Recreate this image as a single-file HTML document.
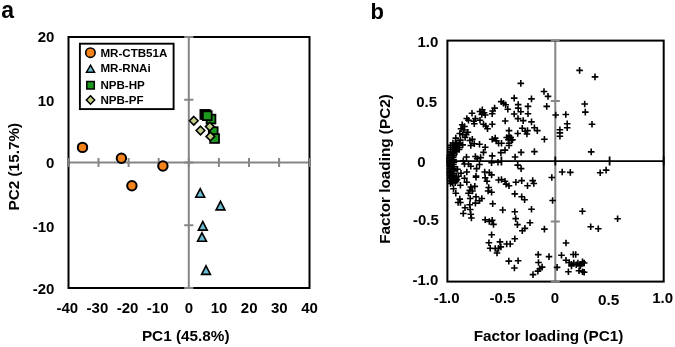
<!DOCTYPE html>
<html><head><meta charset="utf-8"><title>PCA</title>
<style>
html,body{margin:0;padding:0;background:#fff;}
body{width:675px;height:347px;overflow:hidden;}
svg{display:block;will-change:transform;}
text{font-family:"Liberation Sans",sans-serif;font-weight:bold;fill:#000;}
.t{font-size:15px;}
.ti{font-size:15.3px;}
.l{font-size:11.6px;}
.p{font-size:23px;}
</style></head><body>
<svg width="675" height="347" viewBox="0 0 675 347">
<rect width="675" height="347" fill="#fff"/>
<g id="panel-a">
<text class="p" x="1.2" y="18">a</text>
<g stroke="#868686" stroke-width="2" fill="none">
<path d="M68.5 162.5H309.5M188.8 37.0V288.0"/>
<path d="M68.4 157.9v9.2M98.5 157.9v9.2M128.6 157.9v9.2M158.7 157.9v9.2M188.8 157.9v9.2M218.9 157.9v9.2M249.0 157.9v9.2M279.1 157.9v9.2M309.2 157.9v9.2M184.2 37.0h9.2M184.2 99.8h9.2M184.2 162.5h9.2M184.2 225.2h9.2M184.2 288.0h9.2"/>
</g>
<rect x="68.5" y="37.0" width="241.0" height="251.0" fill="none" stroke="#000" stroke-width="2"/>
<g stroke="#868686" stroke-width="2"><path d="M68.5 157.9v9.2M309.5 157.9v9.2M184.2 37.0h9.2M184.2 288.0h9.2"/></g>
<text class="t" x="54.4" y="42.4" text-anchor="end">20</text>
<text class="t" x="54.4" y="105.8" text-anchor="end">10</text>
<text class="t" x="54.4" y="168.4" text-anchor="end">0</text>
<text class="t" x="54.4" y="231.6" text-anchor="end">-10</text>
<text class="t" x="54.4" y="294.4" text-anchor="end">-20</text>
<text class="t" x="67.3" y="313.0" text-anchor="middle">-40</text>
<text class="t" x="97.4" y="313.0" text-anchor="middle">-30</text>
<text class="t" x="127.5" y="313.0" text-anchor="middle">-20</text>
<text class="t" x="157.7" y="313.0" text-anchor="middle">-10</text>
<text class="t" x="189.0" y="313.0" text-anchor="middle">0</text>
<text class="t" x="219.1" y="313.0" text-anchor="middle">10</text>
<text class="t" x="249.2" y="313.0" text-anchor="middle">20</text>
<text class="t" x="279.3" y="313.0" text-anchor="middle">30</text>
<text class="t" x="309.5" y="313.0" text-anchor="middle">40</text>
<text class="ti" x="185.7" y="341.3" text-anchor="middle">PC1 (45.8%)</text>
<text class="ti" transform="translate(18.8 166.7) rotate(-90)" text-anchor="middle">PC2 (15.7%)</text>
<circle cx="82.5" cy="147.4" r="4.7" fill="#F4831B" stroke="#000" stroke-width="2.0"/>
<circle cx="121.4" cy="158.2" r="4.7" fill="#F4831B" stroke="#000" stroke-width="2.0"/>
<circle cx="162.9" cy="166.0" r="4.7" fill="#F4831B" stroke="#000" stroke-width="2.0"/>
<circle cx="131.9" cy="185.7" r="4.7" fill="#F4831B" stroke="#000" stroke-width="2.0"/>
<path d="M200.2 188.7L204.6 197.2H195.8Z" fill="#69BCD2" stroke="#000" stroke-width="1.65" stroke-linejoin="miter"/>
<path d="M220.5 201.3L224.9 209.8H216.1Z" fill="#69BCD2" stroke="#000" stroke-width="1.65" stroke-linejoin="miter"/>
<path d="M202.8 221.6L207.2 230.1H198.4Z" fill="#69BCD2" stroke="#000" stroke-width="1.65" stroke-linejoin="miter"/>
<path d="M202.0 232.8L206.4 241.2H197.6Z" fill="#69BCD2" stroke="#000" stroke-width="1.65" stroke-linejoin="miter"/>
<path d="M206.0 265.9L210.4 274.4H201.6Z" fill="#69BCD2" stroke="#000" stroke-width="1.65" stroke-linejoin="miter"/>
<rect x="200.4" y="110.0" width="8.8" height="8.8" fill="#1C981C" stroke="#000" stroke-width="1.8"/>
<rect x="201.6" y="110.3" width="8.8" height="8.8" fill="#1C981C" stroke="#000" stroke-width="1.8"/>
<rect x="206.6" y="114.7" width="8.8" height="8.8" fill="#1C981C" stroke="#000" stroke-width="1.8"/>
<rect x="202.9" y="111.3" width="8.8" height="8.8" fill="#1C981C" stroke="#000" stroke-width="1.8"/>
<rect x="208.8" y="127.2" width="8.8" height="8.8" fill="#1C981C" stroke="#000" stroke-width="1.8"/>
<rect x="210.2" y="134.1" width="8.8" height="8.8" fill="#1C981C" stroke="#000" stroke-width="1.8"/>
<path d="M193.8 116.5L198.1 120.8L193.8 125.1L189.5 120.8Z" fill="#BFCE86" stroke="#000" stroke-width="1.6"/>
<path d="M200.5 126.2L204.8 130.5L200.5 134.8L196.2 130.5Z" fill="#BFCE86" stroke="#000" stroke-width="1.6"/>
<path d="M209.8 122.3L214.1 126.6L209.8 130.9L205.5 126.6Z" fill="#BFCE86" stroke="#000" stroke-width="1.6"/>
<path d="M210.4 132.1L214.7 136.4L210.4 140.7L206.1 136.4Z" fill="#BFCE86" stroke="#000" stroke-width="1.6"/>
<rect x="79.9" y="43.7" width="93.7" height="65.4" fill="#fff" stroke="#000" stroke-width="1.9"/>
<circle cx="90.4" cy="52.65" r="4.7" fill="#F4831B" stroke="#000" stroke-width="1.6"/>
<path d="M90.5 65.2L94.5 72.2H86.5Z" fill="#69BCD2" stroke="#000" stroke-width="1.5" stroke-linejoin="miter"/>
<rect x="86.8" y="81.5" width="7.5" height="7.5" fill="#1C981C" stroke="#000" stroke-width="1.5"/>
<path d="M90.5 95.8L94.7 100.0L90.5 104.2L86.3 100.0Z" fill="#BFCE86" stroke="#000" stroke-width="1.5"/>
<text class="l" x="100.4" y="56.7">MR-CTB51A</text>
<text class="l" x="100.4" y="71.5">MR-RNAi</text>
<text class="l" x="100.4" y="88.9">NPB-HP</text>
<text class="l" x="100.4" y="103.9">NPB-PF</text>
</g>
<g id="panel-b">
<text class="p" style="font-size:22px" x="370.6" y="18.8">b</text>
<g stroke="#868686" stroke-width="2" fill="none"><path d="M555.3 40.6V281.6M550.8 100.9h9M550.8 221.4h9"/></g>
<rect x="447.4" y="40.6" width="216.3" height="241.0" fill="none" stroke="#000" stroke-width="2"/>
<path d="M550.8 40.6h9M550.8 281.6h9" stroke="#868686" stroke-width="2"/>
<path d="M447.4 161.1H663.7M501.4 156.6v9M555.3 156.6v9M609.6 156.6v9M447.4 156.6v9M663.7 156.6v9" stroke="#000" stroke-width="1.8" fill="none"/>
<text class="t" x="438.3" y="46.9" text-anchor="end">1.0</text>
<text class="t" x="437.0" y="106.5" text-anchor="end">0.5</text>
<text class="t" x="425.7" y="167.3" text-anchor="end">0</text>
<text class="t" x="438.8" y="225.4" text-anchor="end">-0.5</text>
<text class="t" x="438.4" y="284.9" text-anchor="end">-1.0</text>
<text class="t" x="446.6" y="303.0" text-anchor="middle">-1.0</text>
<text class="t" x="502.5" y="303.0" text-anchor="middle">-0.5</text>
<text class="t" x="554.9" y="303.0" text-anchor="middle">0</text>
<text class="t" style="font-size:15.4px" x="608.6" y="304.5" text-anchor="middle">0.5</text>
<text class="t" x="662.6" y="303.0" text-anchor="middle">1.0</text>
<text class="ti" x="548.5" y="340.6" text-anchor="middle">Factor loading (PC1)</text>
<text class="ti" transform="translate(389.9 169) rotate(-90)" text-anchor="middle">Factor loading (PC2)</text>
<clipPath id="cb"><rect x="446.4" y="39.6" width="218.3" height="243.0"/></clipPath>
<path clip-path="url(#cb)" d="M517.5 83.4h6.6M520.8 80.1v6.6M576.3 70.4h6.6M579.6 67.1v6.6M591.7 76.9h6.6M595.0 73.6v6.6M540.7 91.5h6.6M544.0 88.2v6.6M544.7 96.4h6.6M548.0 93.1v6.6M510.9 98.1h6.6M514.2 94.8v6.6M528.2 98.9h6.6M531.5 95.6v6.6M497.9 101.6h6.6M501.2 98.3v6.6M500.2 103.2h6.6M503.5 99.9v6.6M502.4 104.8h6.6M505.7 101.5v6.6M514.9 104.6h6.6M518.2 101.3v6.6M524.7 106.4h6.6M528.0 103.1v6.6M543.4 106.4h6.6M546.7 103.1v6.6M504.5 109.3h6.6M507.8 106.0v6.6M514.9 108.1h6.6M518.2 104.8v6.6M517.5 111.8h6.6M520.8 108.5v6.6M510.9 114.0h6.6M514.2 110.7v6.6M524.7 113.7h6.6M528.0 110.4v6.6M552.4 115.0h6.6M555.7 111.7v6.6M562.5 114.5h6.6M565.8 111.2v6.6M514.7 118.6h6.6M518.0 115.3v6.6M501.9 121.0h6.6M505.2 117.7v6.6M519.9 120.6h6.6M523.2 117.3v6.6M468.7 113.3h6.6M472.0 110.0v6.6M476.7 111.5h6.6M480.0 108.2v6.6M479.0 109.8h6.6M482.3 106.5v6.6M480.8 112.7h6.6M484.1 109.4v6.6M478.5 114.4h6.6M481.8 111.1v6.6M481.9 115.0h6.6M485.2 111.7v6.6M489.4 111.0h6.6M492.7 107.7v6.6M488.9 113.8h6.6M492.2 110.5v6.6M463.5 118.5h6.6M466.8 115.2v6.6M465.2 120.2h6.6M468.5 116.9v6.6M472.1 118.5h6.6M475.4 115.2v6.6M470.4 121.3h6.6M473.7 118.0v6.6M471.0 123.7h6.6M474.3 120.4v6.6M476.7 120.2h6.6M480.0 116.9v6.6M480.2 124.2h6.6M483.5 120.9v6.6M482.5 126.0h6.6M485.8 122.7v6.6M488.9 124.2h6.6M492.2 120.9v6.6M484.2 128.8h6.6M487.5 125.5v6.6M458.9 124.8h6.6M462.2 121.5v6.6M461.2 126.5h6.6M464.5 123.2v6.6M457.7 128.8h6.6M461.0 125.5v6.6M460.6 130.0h6.6M463.9 126.7v6.6M464.6 132.3h6.6M467.9 129.0v6.6M462.9 134.6h6.6M466.2 131.3v6.6M456.5 133.5h6.6M459.8 130.2v6.6M459.4 134.6h6.6M462.7 131.3v6.6M452.5 138.1h6.6M455.8 134.8v6.6M488.9 139.2h6.6M492.2 135.9v6.6M491.3 108.1h6.6M494.6 104.8v6.6M528.2 121.9h6.6M531.5 118.6v6.6M531.1 127.7h6.6M534.4 124.4v6.6M534.0 130.6h6.6M537.3 127.3v6.6M519.0 128.3h6.6M522.3 125.0v6.6M521.9 131.2h6.6M525.2 127.9v6.6M524.2 130.6h6.6M527.5 127.3v6.6M523.6 134.0h6.6M526.9 130.7v6.6M505.7 130.6h6.6M509.0 127.3v6.6M514.4 133.5h6.6M517.7 130.2v6.6M505.7 135.8h6.6M509.0 132.5v6.6M503.4 137.5h6.6M506.7 134.2v6.6M507.4 137.5h6.6M510.7 134.2v6.6M491.9 138.1h6.6M495.2 134.8v6.6M581.4 104.0h6.6M584.7 100.7v6.6M582.0 112.1h6.6M585.3 108.8v6.6M563.9 123.7h6.6M567.2 120.4v6.6M563.9 127.7h6.6M567.2 124.4v6.6M556.6 129.8h6.6M559.9 126.5v6.6M556.6 132.9h6.6M559.9 129.6v6.6M556.6 136.3h6.6M559.9 133.0v6.6M541.1 139.2h6.6M544.4 135.9v6.6M588.7 124.2h6.6M592.0 120.9v6.6M587.9 151.9h6.6M591.2 148.6v6.6M449.6 143.0h6.6M452.9 139.7v6.6M452.0 142.7h6.6M455.3 139.4v6.6M453.5 143.3h6.6M456.8 140.0v6.6M455.8 143.1h6.6M459.1 139.8v6.6M447.3 145.3h6.6M450.6 142.0v6.6M449.6 145.1h6.6M452.9 141.8v6.6M452.0 144.8h6.6M455.3 141.5v6.6M453.5 145.4h6.6M456.8 142.1v6.6M455.8 145.2h6.6M459.1 141.9v6.6M447.3 147.4h6.6M450.6 144.1v6.6M449.6 147.2h6.6M452.9 143.9v6.6M452.0 146.9h6.6M455.3 143.6v6.6M453.5 147.5h6.6M456.8 144.2v6.6M455.8 147.3h6.6M459.1 144.0v6.6M447.3 149.5h6.6M450.6 146.2v6.6M449.6 149.3h6.6M452.9 146.0v6.6M452.0 149.0h6.6M455.3 145.7v6.6M453.5 149.6h6.6M456.8 146.3v6.6M455.8 149.4h6.6M459.1 146.1v6.6M447.3 151.6h6.6M450.6 148.3v6.6M449.6 151.4h6.6M452.9 148.1v6.6M452.0 151.1h6.6M455.3 147.8v6.6M453.5 151.7h6.6M456.8 148.4v6.6M445.6 155.3h6.6M448.9 152.0v6.6M448.7 155.7h6.6M452.0 152.4v6.6M450.5 155.6h6.6M453.8 152.3v6.6M446.0 157.7h6.6M449.3 154.4v6.6M448.1 157.6h6.6M451.4 154.3v6.6M449.9 157.5h6.6M453.2 154.2v6.6M446.4 160.1h6.6M449.7 156.8v6.6M448.5 160.0h6.6M451.8 156.7v6.6M450.3 159.9h6.6M453.6 156.6v6.6M445.8 162.0h6.6M449.1 158.7v6.6M447.9 161.9h6.6M451.2 158.6v6.6M450.7 162.3h6.6M454.0 159.0v6.6M446.2 164.4h6.6M449.5 161.1v6.6M448.3 164.3h6.6M451.6 161.0v6.6M450.1 164.2h6.6M453.4 160.9v6.6M445.6 166.3h6.6M448.9 163.0v6.6M448.7 166.7h6.6M452.0 163.4v6.6M450.5 166.6h6.6M453.8 163.3v6.6M446.0 168.7h6.6M449.3 165.4v6.6M448.1 168.6h6.6M451.4 165.3v6.6M449.9 168.5h6.6M453.2 165.2v6.6M446.4 171.1h6.6M449.7 167.8v6.6M448.5 171.0h6.6M451.8 167.7v6.6M450.3 170.9h6.6M453.6 167.6v6.6M445.8 173.0h6.6M449.1 169.7v6.6M447.9 172.9h6.6M451.2 169.6v6.6M450.7 173.3h6.6M454.0 170.0v6.6M446.2 175.4h6.6M449.5 172.1v6.6M448.3 175.3h6.6M451.6 172.0v6.6M450.1 175.2h6.6M453.4 171.9v6.6M446.2 178.5h6.6M449.5 175.2v6.6M448.5 178.0h6.6M451.8 174.7v6.6M450.7 177.5h6.6M454.0 174.2v6.6M453.0 177.0h6.6M456.3 173.7v6.6M455.1 176.2h6.6M458.4 172.9v6.6M446.7 181.0h6.6M450.0 177.7v6.6M449.1 180.6h6.6M452.4 177.3v6.6M451.5 180.2h6.6M454.8 176.9v6.6M453.7 179.6h6.6M457.0 176.3v6.6M449.5 183.0h6.6M452.8 179.7v6.6M451.9 182.6h6.6M455.2 179.3v6.6M447.2 183.5h6.6M450.5 180.2v6.6M457.1 140.1h6.6M460.4 136.8v6.6M466.5 140.5h6.6M469.8 137.2v6.6M469.0 139.4h6.6M472.3 136.1v6.6M461.8 137.4h6.6M465.1 134.1v6.6M467.5 145.5h6.6M470.8 142.2v6.6M471.0 143.8h6.6M474.3 140.5v6.6M476.2 144.3h6.6M479.5 141.0v6.6M481.9 147.2h6.6M485.2 143.9v6.6M480.2 152.4h6.6M483.5 149.1v6.6M488.9 155.9h6.6M492.2 152.6v6.6M463.2 157.0h6.6M466.5 153.7v6.6M472.1 156.5h6.6M475.4 153.2v6.6M473.9 158.8h6.6M477.2 155.5v6.6M477.3 157.6h6.6M480.6 154.3v6.6M461.2 164.0h6.6M464.5 160.7v6.6M465.2 164.0h6.6M468.5 160.7v6.6M467.5 166.3h6.6M470.8 163.0v6.6M476.2 164.5h6.6M479.5 161.2v6.6M473.3 168.6h6.6M476.6 165.3v6.6M488.3 162.8h6.6M491.6 159.5v6.6M457.7 173.2h6.6M461.0 169.9v6.6M463.5 172.0h6.6M466.8 168.7v6.6M472.7 176.1h6.6M476.0 172.8v6.6M481.4 172.0h6.6M484.7 168.7v6.6M486.0 172.6h6.6M489.3 169.3v6.6M488.3 174.9h6.6M491.6 171.6v6.6M454.2 169.2h6.6M457.5 165.9v6.6M459.4 144.9h6.6M462.7 141.6v6.6M460.0 161.0h6.6M463.3 157.7v6.6M495.3 143.2h6.6M498.6 139.9v6.6M498.2 143.2h6.6M501.5 139.9v6.6M493.0 140.9h6.6M496.3 137.6v6.6M505.1 139.7h6.6M508.4 136.4v6.6M508.0 140.3h6.6M511.3 137.0v6.6M505.7 143.2h6.6M509.0 139.9v6.6M505.7 145.5h6.6M509.0 142.2v6.6M509.2 139.7h6.6M512.5 136.4v6.6M501.7 150.1h6.6M505.0 146.8v6.6M497.6 152.6h6.6M500.9 149.3v6.6M517.8 152.4h6.6M521.1 149.1v6.6M531.1 151.6h6.6M534.4 148.3v6.6M511.8 157.0h6.6M515.1 153.7v6.6M494.7 162.2h6.6M498.0 158.9v6.6M514.4 165.1h6.6M517.7 161.8v6.6M517.8 168.6h6.6M521.1 165.3v6.6M558.9 172.0h6.6M562.2 168.7v6.6M567.0 172.4h6.6M570.3 169.1v6.6M548.5 177.5h6.6M551.8 174.2v6.6M602.8 170.1h6.6M606.1 166.8v6.6M596.9 172.8h6.6M600.2 169.5v6.6M447.7 177.0h6.6M451.0 173.7v6.6M449.7 179.0h6.6M453.0 175.7v6.6M451.7 178.0h6.6M455.0 174.7v6.6M448.7 182.0h6.6M452.0 178.7v6.6M452.7 181.0h6.6M456.0 177.7v6.6M461.2 178.3h6.6M464.5 175.0v6.6M463.5 182.3h6.6M466.8 179.0v6.6M472.7 177.2h6.6M476.0 173.9v6.6M481.9 177.7h6.6M485.2 174.4v6.6M483.7 181.2h6.6M487.0 177.9v6.6M457.1 185.2h6.6M460.4 181.9v6.6M450.2 188.7h6.6M453.5 185.4v6.6M452.5 193.3h6.6M455.8 190.0v6.6M467.5 187.0h6.6M470.8 183.7v6.6M471.5 186.4h6.6M474.8 183.1v6.6M466.4 190.4h6.6M469.7 187.1v6.6M469.2 191.0h6.6M472.5 187.7v6.6M465.2 193.3h6.6M468.5 190.0v6.6M485.4 187.5h6.6M488.7 184.2v6.6M484.8 191.0h6.6M488.1 187.7v6.6M488.3 192.2h6.6M491.6 188.9v6.6M472.7 196.8h6.6M476.0 193.5v6.6M466.9 198.5h6.6M470.2 195.2v6.6M478.5 198.5h6.6M481.8 195.2v6.6M476.2 200.8h6.6M479.5 197.5v6.6M472.1 203.1h6.6M475.4 199.8v6.6M456.5 199.1h6.6M459.8 195.8v6.6M454.8 202.5h6.6M458.1 199.2v6.6M457.1 202.5h6.6M460.4 199.2v6.6M466.4 204.8h6.6M469.7 201.5v6.6M461.7 207.7h6.6M465.0 204.4v6.6M466.9 209.5h6.6M470.2 206.2v6.6M460.0 213.5h6.6M463.3 210.2v6.6M467.5 214.3h6.6M470.8 211.0v6.6M489.4 203.7h6.6M492.7 200.4v6.6M495.3 180.0h6.6M498.6 176.7v6.6M498.2 179.5h6.6M501.5 176.2v6.6M501.7 181.2h6.6M505.0 177.9v6.6M502.8 184.1h6.6M506.1 180.8v6.6M505.7 185.8h6.6M509.0 182.5v6.6M512.6 182.3h6.6M515.9 179.0v6.6M518.4 180.6h6.6M521.7 177.3v6.6M529.4 180.6h6.6M532.7 177.3v6.6M530.5 183.5h6.6M533.8 180.2v6.6M524.2 185.8h6.6M527.5 182.5v6.6M511.5 193.9h6.6M514.8 190.6v6.6M518.4 196.8h6.6M521.7 193.5v6.6M521.3 199.7h6.6M524.6 196.4v6.6M499.4 210.0h6.6M502.7 206.7v6.6M511.5 211.8h6.6M514.8 208.5v6.6M528.2 209.2h6.6M531.5 205.9v6.6M549.3 200.5h6.6M552.6 197.2v6.6M579.1 211.2h6.6M582.4 207.9v6.6M614.3 218.8h6.6M617.6 215.5v6.6M595.0 228.8h6.6M598.3 225.5v6.6M587.4 226.8h6.6M590.7 223.5v6.6M468.1 218.0h6.6M471.4 214.7v6.6M481.9 219.8h6.6M485.2 216.5v6.6M486.0 221.5h6.6M489.3 218.2v6.6M488.9 220.3h6.6M492.2 217.0v6.6M488.3 234.8h6.6M491.6 231.5v6.6M485.6 242.8h6.6M488.9 239.5v6.6M486.9 248.2h6.6M490.2 244.9v6.6M512.4 218.6h6.6M515.7 215.3v6.6M514.1 224.6h6.6M517.4 221.3v6.6M526.7 222.7h6.6M530.0 219.4v6.6M521.6 228.4h6.6M524.9 225.1v6.6M519.0 230.7h6.6M522.3 227.4v6.6M511.5 238.8h6.6M514.8 235.5v6.6M496.7 241.9h6.6M500.0 238.6v6.6M503.4 244.0h6.6M506.7 240.7v6.6M506.9 244.0h6.6M510.2 240.7v6.6M497.6 246.9h6.6M500.9 243.6v6.6M495.2 248.4h6.6M498.5 245.1v6.6M491.9 248.5h6.6M495.2 245.2v6.6M493.7 253.0h6.6M497.0 249.7v6.6M490.2 224.4h6.6M493.5 221.1v6.6M541.1 229.1h6.6M544.4 225.8v6.6M562.7 243.0h6.6M566.0 239.7v6.6M534.9 254.6h6.6M538.2 251.3v6.6M545.7 256.6h6.6M549.0 253.3v6.6M558.2 255.2h6.6M561.5 251.9v6.6M570.0 254.5h6.6M573.3 251.2v6.6M572.4 254.5h6.6M575.7 251.2v6.6M562.7 260.2h6.6M566.0 256.9v6.6M535.2 262.5h6.6M538.5 259.2v6.6M505.5 261.1h6.6M508.8 257.8v6.6M514.8 260.7h6.6M518.1 257.4v6.6M511.1 268.0h6.6M514.4 264.7v6.6M534.6 271.1h6.6M537.9 267.8v6.6M529.7 274.6h6.6M533.0 271.3v6.6M536.5 268.8h6.6M539.8 265.5v6.6M538.8 267.1h6.6M542.1 263.8v6.6M553.8 267.4h6.6M557.1 264.1v6.6M565.9 262.5h6.6M569.2 259.2v6.6M568.2 264.2h6.6M571.5 260.9v6.6M570.5 263.0h6.6M573.8 259.7v6.6M572.9 264.8h6.6M576.2 261.5v6.6M574.6 263.0h6.6M577.9 259.7v6.6M577.5 264.2h6.6M580.8 260.9v6.6M579.2 261.9h6.6M582.5 258.6v6.6M580.9 263.0h6.6M584.2 259.7v6.6M568.2 265.9h6.6M571.5 262.6v6.6M576.9 265.9h6.6M580.2 262.6v6.6M565.1 271.7h6.6M568.4 268.4v6.6M575.7 270.8h6.6M579.0 267.5v6.6M579.2 271.7h6.6M582.5 268.4v6.6M580.9 272.3h6.6M584.2 269.0v6.6" stroke="#000" stroke-width="1.6" fill="none"/>
</g>
</svg>
</body></html>
